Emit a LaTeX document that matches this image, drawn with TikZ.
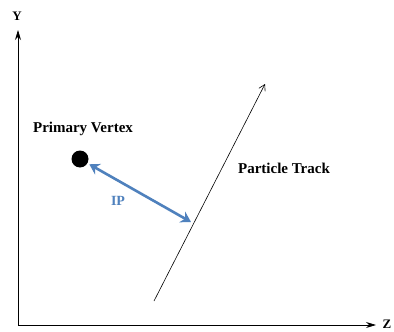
\documentclass[tikz,border=0pt]{standalone}
\usepackage{fontspec}
\setmainfont{Liberation Serif}
\usetikzlibrary{arrows.meta}
\definecolor{ipblue}{RGB}{79,129,189}
\tikzset{
  axis/.style={line width=0.8pt,-{Stealth[length=10pt,width=6pt]}},
  lbl/.style={font=\fontsize{15}{17}\selectfont\bfseries,inner sep=0pt},
  axlbl/.style={font=\fontsize{13}{15}\selectfont\bfseries,inner sep=0pt}
}
\begin{document}
\begin{tikzpicture}[x=1pt,y=-1pt]
\useasboundingbox[fill=white] (0,0) rectangle (394,332);
\coordinate (O) at (18,325);
\coordinate (Ytip) at (18,30);
\coordinate (Ztip) at (376,325);
\draw[axis] (O) -- (Ytip);
\draw[axis] (O) -- (Ztip);
\node[axlbl] (Y) at (17,16) {Y};
\node[axlbl] (Z) at (387,324) {Z};
\coordinate (T0) at (154,301);
\coordinate (T1) at (265,84);
\draw[line width=0.6pt,-{Straight Barb[length=6pt,width=7pt]}] (T0) -- (T1);
\node[circle,fill=black,minimum size=17pt,inner sep=0pt] (PV) at (80,159) {};
\node[lbl] (PVl) at (83,129) {Primary Vertex};
\node[lbl] (PT) at (284,168) {Particle Track};
\coordinate (IPend) at (191,222);
\draw[ipblue,line width=2.6pt,shorten <=2pt,{Stealth[length=10pt,width=12pt]}-{Stealth[length=10pt,width=12pt]}] (PV) -- (IPend);
\node[lbl,text=ipblue,font=\fontsize{14}{16}\selectfont\bfseries] (IP) at (118,201) {IP};
\end{tikzpicture}
\end{document}
